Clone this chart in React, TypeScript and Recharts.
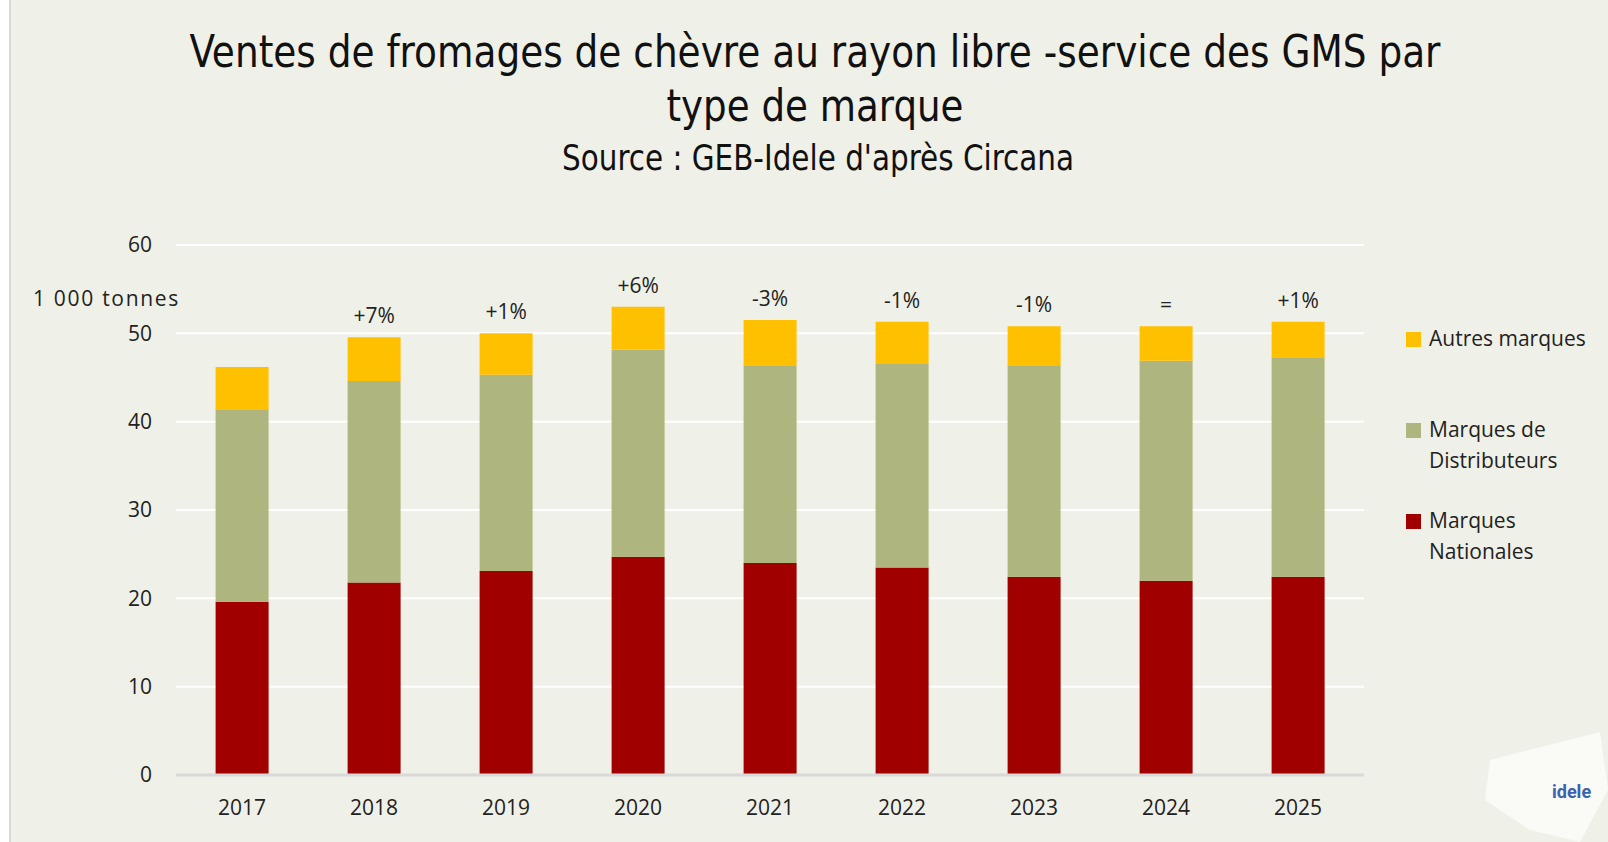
import React from 'react'
import { BarChart, Bar, XAxis, YAxis, CartesianGrid, LabelList } from 'recharts'

const years = ['2017', '2018', '2019', '2020', '2021', '2022', '2023', '2024', '2025']
const nationales = [19.6, 21.8, 23.1, 24.7, 24.0, 23.5, 22.45, 22.0, 22.45]
const distributeurs = [21.8, 22.8, 22.2, 23.45, 22.4, 23.1, 23.95, 24.9, 24.85]
const autres = [4.8, 4.95, 4.7, 4.85, 5.1, 4.7, 4.4, 3.9, 4.0]
const variations = ['', '+7%', '+1%', '+6%', '-3%', '-1%', '-1%', '=', '+1%']
const yTicks = [0, 10, 20, 30, 40, 50, 60]

const RED = '#A00000'
const GREEN = '#AFB57F'
const YELLOW = '#FFC000'
const BG = '#EFF0E7'
const FONT = '"Open Sans", Lato, sans-serif'
const TITLE_FONT = '"DejaVu Sans Condensed", "DejaVu Sans", sans-serif'

const data = years.map((y, i) => ({
  year: y,
  mn: nationales[i],
  mdd: distributeurs[i],
  autres: autres[i],
  pct: variations[i],
}))

const legendItems = [
  { color: YELLOW, lines: ['Autres marques'] },
  { color: GREEN, lines: ['Marques de', 'Distributeurs'] },
  { color: RED, lines: ['Marques', 'Nationales'] },
]

function LegendBox() {
  return (
    <div
      style={{
        position: 'absolute',
        left: 1406,
        top: 323,
        fontFamily: FONT,
        fontSize: 21,
        color: '#222',
        lineHeight: '31px',
      }}
    >
      {legendItems.map((it, i) => (
        <div key={i} style={{ display: 'flex', alignItems: 'flex-start', marginBottom: i === 0 ? 60 : 29 }}>
          <div style={{ width: 15, height: 15, background: it.color, marginTop: 9, marginRight: 8 }} />
          <div>
            {it.lines.map((l, j) => (
              <div key={j}>{l}</div>
            ))}
          </div>
        </div>
      ))}
    </div>
  )
}

export default function App() {
  return (
    <div style={{ position: 'absolute', left: 0, top: 0, width: 1608, height: 842, background: '#fff' }}>
      <div
        style={{
          position: 'absolute',
          left: 9,
          top: 0,
          width: 1599,
          height: 842,
          background: BG,
          borderLeft: '2px solid #DADAD4',
          boxSizing: 'border-box',
        }}
      />
      <svg style={{ position: 'absolute', left: 0, top: 0 }} width={1608} height={200}>
        <g fontFamily={TITLE_FONT} fill="#111" textAnchor="middle">
          <text x={815} y={67} fontSize={44} textLength={1251} lengthAdjust="spacingAndGlyphs">
            Ventes de fromages de chèvre au rayon libre -service des GMS par
          </text>
          <text x={815} y={121} fontSize={44} textLength={297} lengthAdjust="spacingAndGlyphs">
            type de marque
          </text>
          <text x={818} y={170} fontSize={36} textLength={512} lengthAdjust="spacingAndGlyphs">
            Source : GEB-Idele d'après Circana
          </text>
        </g>
      </svg>
      <div
        style={{
          position: 'absolute',
          left: 33,
          top: 284,
          fontFamily: FONT,
          fontSize: 21,
          letterSpacing: 1.7,
          color: '#222',
        }}
      >
        1 000 tonnes
      </div>
      <div style={{ position: 'absolute', left: 0, top: 0 }}>
        <BarChart
          width={1608}
          height={842}
          data={data}
          margin={{ top: 245, right: 244, bottom: 37, left: 116 }}
          barCategoryGap="30%"
        >
          <CartesianGrid vertical={false} stroke="#FFFFFF" strokeWidth={2} />
          <XAxis
            dataKey="year"
            height={30}
            tickLine={false}
            axisLine={{ stroke: '#D9D9D9', strokeWidth: 3 }}
            tickMargin={19}
            tick={{ fontFamily: FONT, fontSize: 21, fill: '#222' }}
          />
          <YAxis
            width={60}
            domain={[0, 60]}
            ticks={yTicks}
            tickLine={false}
            axisLine={false}
            tickMargin={18}
            tick={{ fontFamily: FONT, fontSize: 21, fill: '#222' }}
          />
          <Bar dataKey="mn" stackId="a" fill={RED} isAnimationActive={false} />
          <Bar dataKey="mdd" stackId="a" fill={GREEN} isAnimationActive={false} />
          <Bar dataKey="autres" stackId="a" fill={YELLOW} isAnimationActive={false}>
            <LabelList
              dataKey="pct"
              position="top"
              offset={14}
              style={{ fontFamily: FONT, fontSize: 21, fill: '#222' }}
            />
          </Bar>
        </BarChart>
      </div>
      <LegendBox />
      <svg style={{ position: 'absolute', left: 1470, top: 730 }} width={138} height={112}>
        <path d="M20 30 L130 2 L138 60 L110 112 L60 100 L15 70 Z" fill="#FAFAF6" />
        <text x={82} y={68} fontFamily="Roboto, sans-serif" fontWeight={700} fontSize={18} fill="#3A62B0">
          idele
        </text>
      </svg>
    </div>
  )
}
